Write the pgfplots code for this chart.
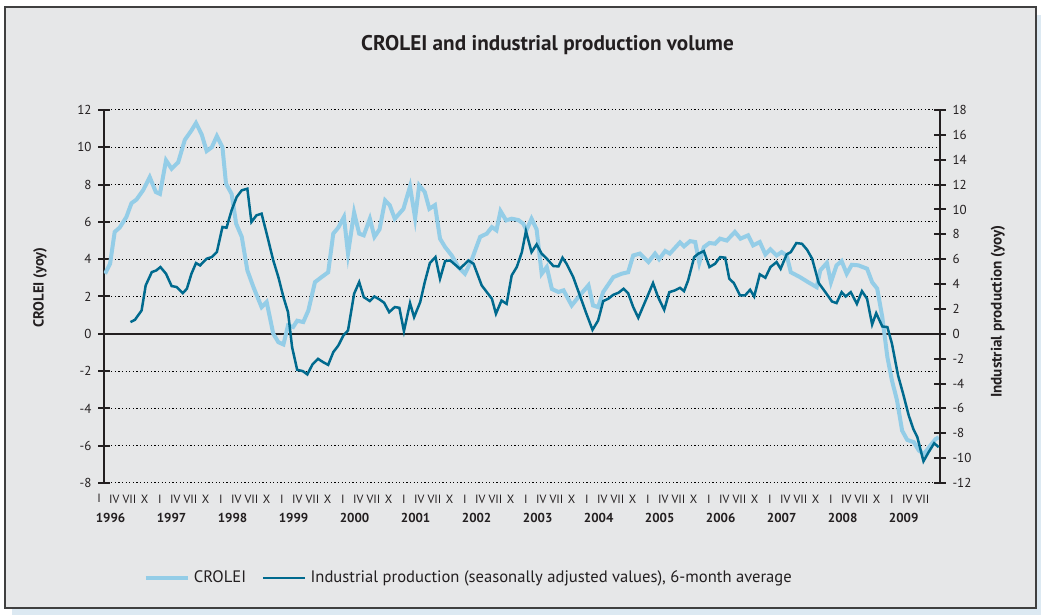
\documentclass[border=0pt]{standalone}
\usepackage{pgfplots}
\pgfplotsset{compat=1.18}
\usepackage{fontspec}
\setmainfont{PT Sans}
\definecolor{crolei}{HTML}{94CDE7}
\definecolor{ipblue}{HTML}{006A8E}
\definecolor{bggray}{HTML}{E6E7E8}
\definecolor{shadowblue}{HTML}{DCE9F2}
\definecolor{axisblack}{HTML}{231F20}

\pgfplotstableread{
m v
1.2 3.22
2.2 3.76
3.1 5.46
4.1 5.70
5.4 6.26
6.4 7.00
7.4 7.20
8.7 7.70
10.0 8.40
11.2 7.60
12.0 7.50
13.2 9.30
14.3 8.85
15.6 9.20
16.9 10.40
18.2 10.90
19.1 11.30
20.2 10.70
21.2 9.80
22.2 10.00
23.2 10.60
24.3 10.00
25.0 8.05
26.1 7.50
27.0 5.90
28.1 5.20
29.2 3.40
30.4 2.50
32.0 1.43
33.0 1.70
34.3 0.00
35.3 -0.45
36.3 -0.57
37.2 0.45
38.2 0.36
39.0 0.70
40.2 0.63
41.2 1.25
42.5 2.77
43.8 3.04
45.1 3.30
46.1 5.37
47.1 5.70
48.2 6.26
49.0 4.30
50.2 6.50
51.2 5.37
52.1 5.28
53.3 6.17
54.2 5.20
55.2 5.60
56.3 7.15
57.2 6.90
58.2 6.17
59.9 6.70
61.2 7.90
62.2 6.20
63.0 7.96
64.1 7.60
65.0 6.70
66.1 6.90
67.1 5.10
68.1 4.65
69.4 4.20
70.7 3.58
72.0 3.22
73.3 3.94
75.0 5.20
76.3 5.37
77.3 5.72
78.2 5.55
79.0 6.58
80.1 6.08
81.2 6.17
82.5 6.10
83.5 5.90
84.1 5.55
85.1 6.17
86.1 5.60
87.1 3.22
88.1 3.58
89.1 2.40
90.4 2.24
91.4 2.33
93.0 1.52
94.6 2.06
96.3 2.60
97.2 1.52
98.2 1.43
99.2 2.24
101.2 3.04
102.8 3.22
104.1 3.30
105.1 4.20
106.4 4.30
108.1 3.85
109.4 4.30
110.2 4.00
111.4 4.44
112.3 4.30
113.3 4.60
114.3 4.90
115.1 4.69
116.3 4.97
117.3 4.92
118.1 3.80
119.0 4.65
120.1 4.87
121.2 4.83
122.2 5.10
123.5 5.00
125.1 5.46
126.2 5.10
127.7 5.28
128.7 4.74
130.0 4.92
131.1 4.26
132.1 4.53
133.3 4.20
134.3 4.38
135.3 4.20
136.1 3.30
137.9 3.04
139.5 2.77
141.2 2.50
141.9 3.40
143.2 3.80
144.0 2.77
145.1 3.67
146.1 3.90
147.1 3.22
148.1 3.70
149.4 3.67
151.1 3.49
152.1 2.77
153.1 2.42
154.1 0.89
155.1 -1.25
156.0 -2.50
157.0 -3.58
158.0 -5.19
159.0 -5.69
160.3 -5.81
161.3 -6.26
162.3 -6.44
163.3 -6.08
164.6 -5.64
165.2 -5.55
}\croleitable

\pgfplotstableread{
m r
6.2 0.94
7.1 1.13
8.4 1.88
9.2 3.89
10.4 4.96
11.3 5.10
12.1 5.37
13.2 4.83
14.3 3.84
15.3 3.76
16.5 3.27
17.3 3.62
18.2 4.83
19.1 5.69
19.9 5.50
21.2 6.04
22.2 6.17
23.2 6.57
24.3 8.59
25.1 8.53
26.1 9.93
27.1 11.00
28.1 11.54
29.2 11.67
30.0 8.99
31.0 9.53
32.0 9.66
33.0 8.05
34.3 5.90
35.3 4.56
36.3 2.95
37.2 1.74
38.0 -1.07
39.0 -2.90
40.1 -3.00
41.0 -3.27
42.0 -2.47
43.1 -2.01
44.1 -2.28
45.1 -2.50
46.1 -1.48
47.1 -0.94
48.1 -0.13
49.0 0.27
50.2 3.22
51.2 4.16
52.1 2.95
53.3 2.63
54.2 3.00
55.2 2.76
56.1 2.50
57.1 1.74
58.2 2.15
59.1 2.09
60.0 0.21
61.2 2.47
62.0 1.34
63.2 2.55
64.1 4.16
65.1 5.69
66.2 6.17
67.1 4.43
68.1 5.85
69.1 5.90
71.0 5.23
72.7 5.90
73.7 5.63
75.3 3.89
77.3 2.82
78.1 1.61
79.2 2.68
80.2 2.41
81.2 4.70
82.2 5.37
83.2 6.57
84.0 8.26
85.1 6.57
86.1 7.19
87.1 6.44
88.1 6.04
89.4 5.45
90.4 5.42
91.2 6.12
92.0 5.63
93.3 4.56
94.6 3.09
95.9 1.61
97.1 0.32
98.2 1.07
99.2 2.63
100.2 2.82
101.2 3.14
102.2 3.30
103.2 3.62
104.1 3.27
105.1 2.15
106.1 1.29
107.7 2.82
109.0 4.08
110.0 2.95
111.2 1.93
112.2 3.35
113.3 3.49
114.3 3.70
115.1 3.43
115.9 4.29
117.1 6.17
117.9 6.44
119.0 6.65
120.1 5.37
121.2 5.63
122.2 6.17
123.2 6.12
124.0 4.43
124.9 4.08
126.1 3.09
127.1 3.09
128.1 3.54
128.9 3.00
130.0 4.78
131.1 4.51
132.1 5.37
133.3 5.77
134.1 5.23
135.3 6.39
136.1 6.57
137.2 7.30
138.3 7.24
139.3 6.76
140.3 6.04
141.6 4.08
142.9 3.35
144.2 2.60
145.1 2.47
146.1 3.35
146.9 3.00
147.9 3.35
149.1 2.41
150.1 3.43
151.1 2.82
152.1 0.75
152.9 1.66
154.1 0.59
155.1 0.54
156.0 -0.80
157.2 -3.35
158.2 -4.83
159.3 -6.57
160.2 -7.65
161.0 -8.32
162.2 -10.25
163.2 -9.53
164.3 -8.80
165.2 -9.12
}\iptable

\begin{document}
\begin{tikzpicture}
% canvas: 1041 x 615 px at 0.5pt per px
\fill[white] (0pt,0pt) rectangle (520.5pt,307.5pt);
\fill[shadowblue] (6pt,0pt) rectangle (520.5pt,300pt);
\filldraw[fill=bggray, draw=black!75, line width=1pt] (2.5pt,3.5pt) rectangle (518pt,304pt);

\node[font=\bfseries\fontsize{10.6}{12}\selectfont, text=axisblack] at (273.75pt,285pt) {CROLEI and industrial production volume};
\node[font=\bfseries\fontsize{7.3}{8}\selectfont, text=axisblack, rotate=90] at (20pt,163.75pt) {CROLEI (yoy)};
\node[font=\bfseries\fontsize{7.6}{8}\selectfont, text=axisblack, rotate=90] at (499pt,151.75pt) {Industrial production (yoy)};
\node[font=\fontsize{6}{7}\selectfont, text=axisblack] at (49.5pt,58.5pt) {I};

\begin{axis}[
  at={(52pt,66pt)}, anchor=south west,
  scale only axis, width=418pt, height=186.5pt,
  xmin=1, xmax=165.45, ymin=-8, ymax=12,
  separate axis lines,
  every outer x axis line/.append style={draw=none},
  every outer y axis line/.append style={axisblack, line width=1.2pt},
  ytick={-8,-6,...,12},
  yticklabels={-8,-6,-4,-2,0,2,4,6,8,10,12},
  ytick pos=left,
  tick align=center, major tick length=5.5pt,
  y tick style={axisblack, line width=1pt},
  x tick style={draw=none},
  ymajorgrids,
  major grid style={black, line width=0.5pt, dash pattern=on 0.6pt off 1.2pt},
  yticklabel style={font=\fontsize{6.5}{7}\selectfont, text=axisblack},
  xticklabel style={font=\fontsize{6}{7}\selectfont, text=axisblack},
  xtick pos=bottom,
  xtick={3,6,...,162},
  xticklabels={IV,VII,X,
    I,IV,VII,X, I,IV,VII,X, I,IV,VII,X, I,IV,VII,X,
    I,IV,VII,X, I,IV,VII,X, I,IV,VII,X, I,IV,VII,X,
    I,IV,VII,X, I,IV,VII,X, I,IV,VII,X, I,IV,VII,X,
    I,IV,VII},
  extra x ticks={2.3,14.3,26.3,38.3,50.3,62.3,74.3,86.3,98.3,110.3,122.3,134.3,146.3,158.3},
  extra x tick labels={1996,1997,1998,1999,2000,2001,2002,2003,2004,2005,2006,2007,2008,2009},
  extra x tick style={xticklabel style={font=\bfseries\fontsize{6.5}{7}\selectfont, yshift=-9pt}},
  extra y ticks={0},
  extra y tick labels={},
  extra y tick style={major grid style={solid, axisblack, line width=1pt}},
]
\addplot[crolei, line width=2pt] table[x=m, y=v] {\croleitable};
\end{axis}

\begin{axis}[
  at={(52pt,66pt)}, anchor=south west,
  scale only axis, width=418pt, height=186.5pt,
  xmin=1, xmax=165.45, ymin=-12, ymax=18,
  axis x line=none,
  axis y line*=right,
  axis line style={-, axisblack, line width=1.2pt},
  ytick={-12,-10,...,18},
  yticklabels={-12,-10,-8,-6,-4,-2,0,2,4,6,8,10,12,14,16,18},
  tick align=center, major tick length=5.5pt,
  y tick style={axisblack, line width=1pt},
  yticklabel style={font=\fontsize{6.5}{7}\selectfont, text=axisblack},
  legend columns=2,
  legend style={at={(axis description cs:0.04,-0.255)}, anchor=west, draw=none, fill=none,
    font=\fontsize{8.3}{9}\selectfont, text=axisblack,
    /tikz/every even column/.append style={column sep=6pt}},
  legend image code/.code={\draw[#1] (0pt,0pt) -- (21pt,0pt);},
]
\addlegendimage{crolei, line width=2pt}
\addlegendentry{CROLEI}
\addplot[ipblue, line width=1.25pt] table[x=m, y=r] {\iptable};
\addlegendentry{Industrial production (seasonally adjusted values), 6-month average}
\end{axis}
\end{tikzpicture}
\end{document}
